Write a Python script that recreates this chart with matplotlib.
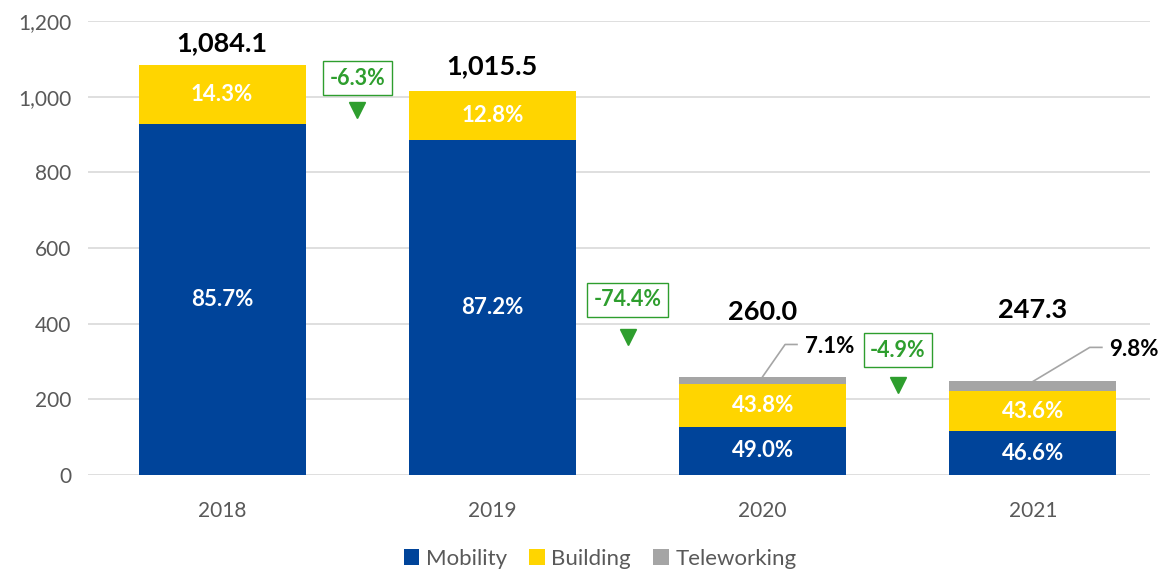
import matplotlib
matplotlib.use("Agg")
import matplotlib.pyplot as plt
from matplotlib.patches import Patch
import numpy as np

plt.rcParams['font.family'] = ['Lato', 'DejaVu Sans']

years = ["2018", "2019", "2020", "2021"]
totals = [1084.1, 1015.5, 260.0, 247.3]
mobility_pct = [85.7, 87.2, 49.0, 46.6]
building_pct = [14.3, 12.8, 43.8, 43.6]
telework_pct = [0.0, 0.0, 7.1, 9.8]
changes = ["-6.3%", "-74.4%", "-4.9%"]
yticks = [0, 200, 400, 600, 800, 1000, 1200]

C_MOB = "#00449A"
C_BLD = "#FFD500"
C_TEL = "#A5A5A5"
C_GRN = "#2E9E2E"
C_TXT = "#595959"

tot = np.array(totals)
mob = tot * np.array(mobility_pct) / 100
bld = tot * np.array(building_pct) / 100
tel = tot - mob - bld
tel[np.array(telework_pct) == 0] = 0

fig = plt.figure(figsize=(11.6, 5.7), dpi=100)
ax = fig.add_axes([88/1160, 1-475/570, (1150-88)/1160, (475-21)/570])
x = np.arange(len(years))
w = 0.618
ax.bar(x, mob, w, color=C_MOB, zorder=3)
ax.bar(x, bld, w, bottom=mob, color=C_BLD, zorder=3)
ax.bar(x, tel, w, bottom=mob+bld, color=C_TEL, zorder=3)

ax.set_xlim(-0.496, 3.433)
ax.set_ylim(0, 1200)
ax.set_yticks(yticks)
ax.set_yticklabels([f"{v:,}" for v in yticks])
ax.set_xticks(x)
ax.set_xticklabels(years)
ax.tick_params(axis='both', length=0, colors=C_TXT, labelsize=15)
ax.tick_params(axis='x', pad=19)
ax.tick_params(axis='y', pad=12)
ax.grid(axis='y', color="#D9D9D9", linewidth=1.2, zorder=0)
for s in ax.spines.values():
    s.set_visible(False)

# segment labels
for i in range(len(years)):
    ax.text(x[i], mob[i]/2, f"{mobility_pct[i]:.1f}%", ha='center', va='center',
            color='white', fontsize=16, fontweight='bold', zorder=4)
    ax.text(x[i], mob[i] + bld[i]/2, f"{building_pct[i]:.1f}%", ha='center', va='center',
            color='white', fontsize=16, fontweight='bold', zorder=4)

# total labels
tot_y_off = [58, 66, 171, 189]
for i in range(len(years)):
    ax.text(x[i], totals[i] + tot_y_off[i], f"{totals[i]:,.1f}", ha='center', va='center',
            color='black', fontsize=19.5, fontweight='bold', zorder=4)

# teleworking callouts
call = [(2, 0.083, 85, 0.044, 0.155), (3, 0.21, 90, 0.045, 0.282)]
for i, dx1, dy1, dx2, dxt in call:
    top = tot[i]
    ax.plot([x[i], x[i]+dx1, x[i]+dx1+dx2], [top, top+dy1, top+dy1],
            color="#A5A5A5", linewidth=1.2, zorder=4, clip_on=False)
    ax.text(x[i]+dxt, top+dy1-6, f"{telework_pct[i]:.1f}%", ha='left', va='center',
            color='black', fontsize=16, fontweight='bold', zorder=4)

# change boxes
box_y = [1049, 463, 330]
tri_y = [965, 365, 238]
for k in range(len(changes)):
    xc = k + 0.5
    ax.text(xc, box_y[k], changes[k], ha='center', va='center', color=C_GRN,
            fontsize=15.5, fontweight='bold', zorder=5,
            bbox=dict(boxstyle='square,pad=0.3', facecolor='white', edgecolor=C_GRN, linewidth=1))
    ax.plot([xc], [tri_y[k]], marker='v', markersize=12, color=C_GRN, zorder=5, linestyle='none')

handles = [Patch(facecolor=C_MOB, label="Mobility"),
           Patch(facecolor=C_BLD, label="Building"),
           Patch(facecolor=C_TEL, label="Teleworking")]
fig.legend(handles=handles, loc='center', bbox_to_anchor=(600/1160, 1-559/570), ncol=3,
           frameon=False, fontsize=16, labelcolor=C_TXT, handlelength=0.7, handleheight=0.7,
           handletextpad=0.3, columnspacing=1.0)

fig.savefig("out.png", dpi=100)
